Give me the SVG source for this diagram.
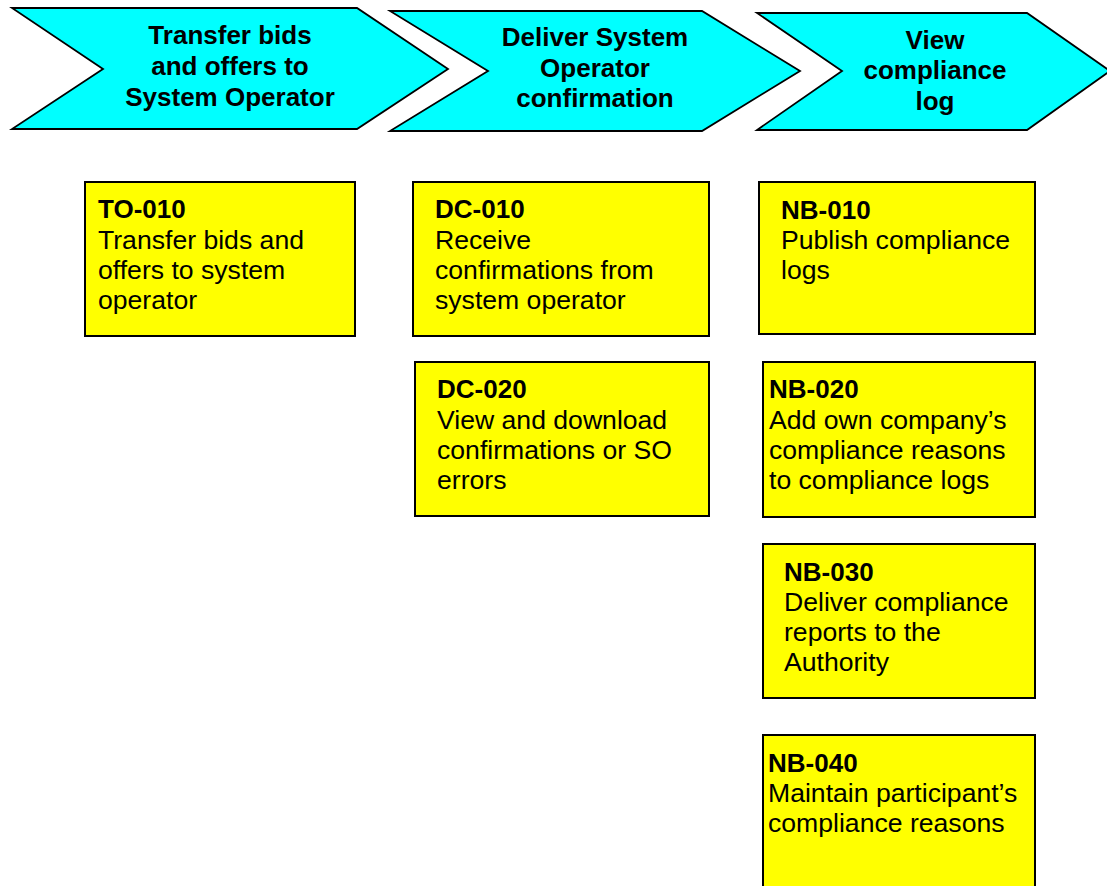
<svg xmlns="http://www.w3.org/2000/svg" width="1107" height="886" viewBox="0 0 1107 886">
<style>
.chev{fill:#00FFFF;stroke:#000;stroke-width:1.8;stroke-linejoin:miter}
.box{fill:#FFFF00;stroke:#000;stroke-width:2}
.ct{font-family:"Liberation Sans",Arial,sans-serif;font-size:26px;font-weight:bold;fill:#000;text-anchor:middle}
.id{font-family:"Liberation Sans",Arial,sans-serif;font-size:26px;font-weight:bold;fill:#000}
.tx{font-family:"Liberation Sans",Arial,sans-serif;font-size:26.6px;fill:#000}
</style>
<rect width="1107" height="886" fill="#fff"/>
<g id="phase-transfer">
<polygon class="chev" points="12,8 357,8 448,69 357,129 12,129 103,69"/>
<text class="ct" x="230" y="44">Transfer bids</text>
<text class="ct" x="230" y="75">and offers to</text>
<text class="ct" x="230" y="106">System Operator</text>
</g>
<g id="phase-deliver">
<polygon class="chev" points="390,11 702,11 800,71 702,131 390,131 488,71"/>
<text class="ct" x="595" y="46">Deliver System</text>
<text class="ct" x="595" y="77">Operator</text>
<text class="ct" x="595" y="107">confirmation</text>
</g>
<g id="phase-view">
<polygon class="chev" points="757,13 1027,13 1110,71 1027,130 757,130 842,71"/>
<text class="ct" x="935" y="49">View</text>
<text class="ct" x="935" y="79">compliance</text>
<text class="ct" x="935" y="110">log</text>
</g>
<g id="TO-010">
<rect class="box" x="85" y="182" width="270" height="154"/>
<text class="id" x="98" y="218">TO-010</text>
<text class="tx" x="98" y="249">Transfer bids and</text>
<text class="tx" x="98" y="279">offers to system</text>
<text class="tx" x="98" y="309">operator</text>
</g>
<g id="DC-010">
<rect class="box" x="413" y="182" width="296" height="154"/>
<text class="id" x="435" y="218">DC-010</text>
<text class="tx" x="435" y="249">Receive</text>
<text class="tx" x="435" y="279">confirmations from</text>
<text class="tx" x="435" y="309">system operator</text>
</g>
<g id="DC-020">
<rect class="box" x="415" y="362" width="294" height="154"/>
<text class="id" x="437" y="398">DC-020</text>
<text class="tx" x="437" y="429">View and download</text>
<text class="tx" x="437" y="459">confirmations or SO</text>
<text class="tx" x="437" y="489">errors</text>
</g>
<g id="NB-010">
<rect class="box" x="759" y="182" width="276" height="152"/>
<text class="id" x="781" y="219">NB-010</text>
<text class="tx" x="781" y="249">Publish compliance</text>
<text class="tx" x="781" y="279">logs</text>
</g>
<g id="NB-020">
<rect class="box" x="763" y="362" width="272" height="155"/>
<text class="id" x="769" y="398">NB-020</text>
<text class="tx" x="769" y="429">Add own company’s</text>
<text class="tx" x="769" y="459">compliance reasons</text>
<text class="tx" x="769" y="489">to compliance logs</text>
</g>
<g id="NB-030">
<rect class="box" x="763" y="544" width="272" height="154"/>
<text class="id" x="784" y="581">NB-030</text>
<text class="tx" x="784" y="611">Deliver compliance</text>
<text class="tx" x="784" y="641">reports to the</text>
<text class="tx" x="784" y="671">Authority</text>
</g>
<g id="NB-040">
<rect class="box" x="763" y="735" width="272" height="160"/>
<text class="id" x="768" y="772">NB-040</text>
<text class="tx" x="768" y="802">Maintain participant’s</text>
<text class="tx" x="768" y="832">compliance reasons</text>
</g>
<g id="connectors"></g>
</svg>
